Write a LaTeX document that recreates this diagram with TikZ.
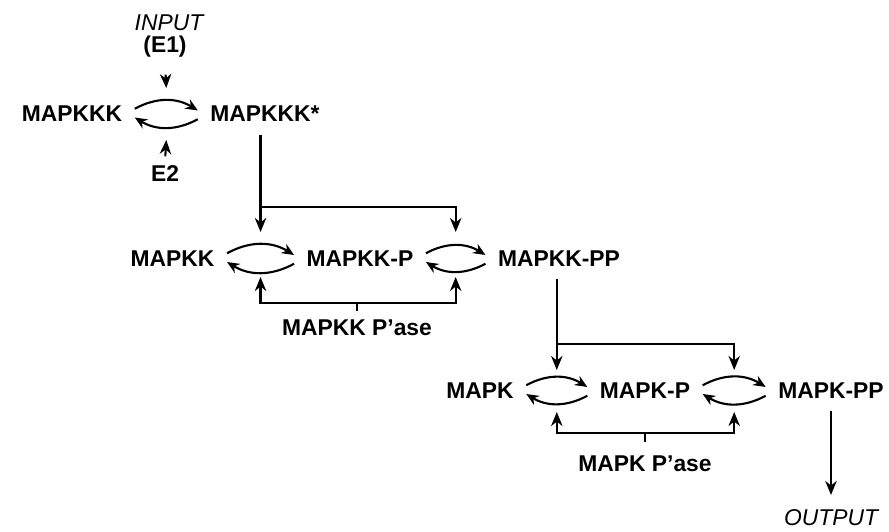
\documentclass[tikz,border=0pt]{standalone}
\usepackage{fontspec}
\setmainfont{Liberation Sans}
\usetikzlibrary{arrows.meta,calc}

\begin{document}
\begin{tikzpicture}[
    species/.style={font=\fontsize{13}{15}\selectfont\bfseries, inner sep=7pt},
    tag/.style={font=\fontsize{13}{15}\selectfont\bfseries, inner sep=2pt},
    io/.style={font=\fontsize{13}{15}\selectfont\itshape, inner sep=2pt},
    arr/.style={-{Stealth[length=8pt,width=6.5pt]}, line width=1.2pt},
    cyc/.style={-{Stealth[length=7pt,width=6pt]}, line width=1.2pt}
]
    \useasboundingbox (0,0) rectangle (17.78,10.62);

    % 1. Species of the three tiers
    \node[species] (kkk)  at (1.44,8.34) {MAPKKK};
    \node[species] (kkks) at (5.30,8.34) {MAPKKK*};
    \node[species] (kk)   at (3.45,5.45) {MAPKK};
    \node[species] (kkp)  at (7.20,5.45) {MAPKK-P};
    \node[species] (kkpp) at (11.18,5.45) {MAPKK-PP};
    \node[species] (k)    at (9.60,2.81) {MAPK};
    \node[species] (kp)   at (12.90,2.81) {MAPK-P};
    \node[species] (kpp)  at (16.62,2.81) {MAPK-PP};

    % 2. Enzymes, input and output
    \node[io]  (input)  at (3.38,10.17) {INPUT};
    \node[tag] (e1)     at (3.30,9.68) {(E1)};
    \node[tag] (e2)     at (3.30,7.15) {E2};
    \node[tag] (kkpase) at (7.14,4.06) {MAPKK P'ase};
    \node[tag] (kpase)  at (12.90,1.35) {MAPK P'ase};
    \node[io]  (output) at (16.62,0.27) {OUTPUT};

    % 3. Centres of the phosphorylation cycles
    \coordinate (c1) at ($(kkk.east)!0.5!(kkks.west)$);
    \coordinate (c2) at ($(kk.east)!0.5!(kkp.west)$);
    \coordinate (c3) at ($(kkp.east)!0.5!(kkpp.west)$);
    \coordinate (c4) at ($(k.east)!0.5!(kp.west)$);
    \coordinate (c5) at ($(kp.east)!0.5!(kpp.west)$);

    % 4. Forward and reverse arcs
    \foreach \a/\b in {kkk/kkks, kk/kkp, kkp/kkpp, k/kp, kp/kpp} {
        \draw[cyc] ([yshift=3pt]\a.east) to[bend left=30] ([yshift=2pt]\b.west);
        \draw[cyc] ([yshift=-3pt]\b.west) to[bend left=30] ([yshift=-2pt]\a.east);
    }

    % 5. Top tier
    \draw[arr, shorten <=7.5pt] (e1.south) -- ($(c1)+(0,0.52)$);
    \draw[arr, shorten <=3pt] (e2.north) -- ($(c1)+(0,-0.52)$);

    % 6. MAPKKK* acts on both steps of the middle tier
    \coordinate (j1) at (c2 |- 0,6.48);
    \draw[arr] (kkks.south -| c2) -- ($(c2)+(0,0.53)$);
    \draw[arr] (j1) -| ($(c3)+(0,0.53)$);
    \coordinate (b1) at ($(kkpase)+(0,0.50)$);
    \draw[line width=1.2pt] (b1) -- ++(0,-0.16);
    \draw[arr] (b1) -| ($(c2)+(0,-0.37)$);
    \draw[arr] (b1) -| ($(c3)+(0,-0.37)$);

    % 7. MAPKK-PP acts on both steps of the bottom tier
    \coordinate (j2) at (c4 |- 0,3.74);
    \draw[arr] (kkpp.south -| c4) -- ($(c4)+(0,0.41)$);
    \draw[arr] (j2) -| ($(c5)+(0,0.41)$);
    \coordinate (b2) at ($(kpase)+(0,0.61)$);
    \draw[line width=1.2pt] (b2) -- ++(0,-0.18);
    \draw[arr] (b2) -| ($(c4)+(0,-0.43)$);
    \draw[arr] (b2) -| ($(c5)+(0,-0.43)$);

    % 8. Output
    \draw[arr, shorten >=6pt] (kpp.south) -- (output.north);
\end{tikzpicture}
\end{document}
